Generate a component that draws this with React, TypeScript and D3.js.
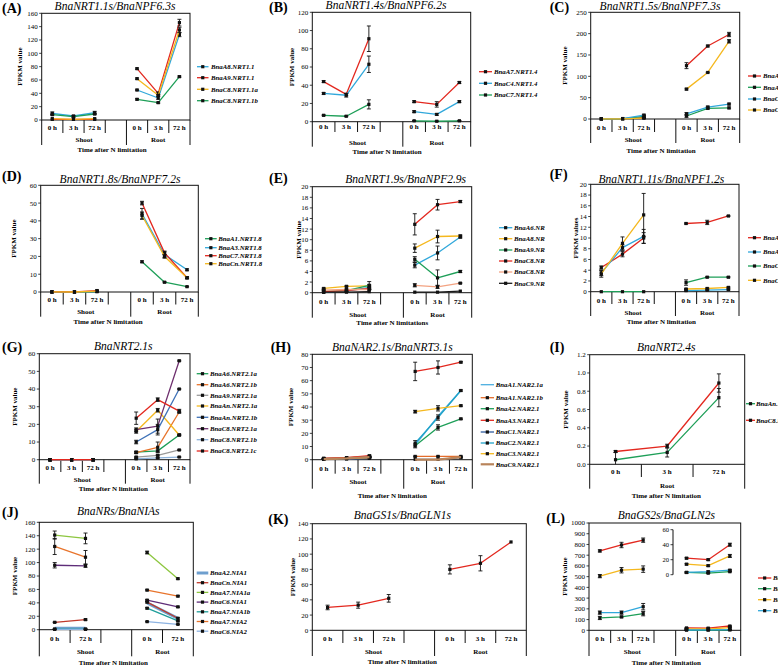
import React from "react";
import * as d3 from "d3";

const FONT = "'Liberation Serif', 'Times New Roman', serif";

const RED = "#E3281F";
const CYAN = "#31A8DB";
const YEL = "#F5B81E";
const GRN = "#1E9F58";

type Group = { name: string; cats: string[] };

const GROUPS_STD: Group[] = [
  { name: "Shoot", cats: ["0 h", "3 h", "72 h", ""] },
  { name: "Root", cats: ["0 h", "3 h", "72 h"] },
];
const GROUPS_J: Group[] = [
  { name: "Shoot", cats: ["0 h", "72 h", ""] },
  { name: "Root", cats: ["0 h", "72 h"] },
];
const GROUPS_I: Group[] = [{ name: "Root", cats: ["0 h", "3 h", "72 h"] }];

// ---------------- data ----------------
const A_NAMES = ["BnaA8.NRT1.1", "BnaA9.NRT1.1", "BnaC8.NRT1.1a", "BnaC8.NRT1.1b"];
const A_COLORS = [CYAN, RED, YEL, GRN];
const A_VALUES = [
  [10, 6, 11, null, 45, 33, 128],
  [1, 1, 1, null, 77, 40, 146],
  [2, 1, 2, null, 62, 37, 135],
  [8, 5, 9, null, 31, 26, 65],
];
const A_ERRS = [
  [2, 1, 2, null, 1, 2, 3],
  [0, 0, 0, null, 1, 2, 5],
  [0, 0, 0, null, 1, 1, 4],
  [1, 1, 1, null, 1, 1, 1],
];

const B_NAMES = ["BnaA7.NRT1.4", "BnaC4.NRT1.4", "BnaC7.NRT1.4"];
const B_COLORS = [RED, CYAN, GRN];
const B_VALUES = [
  [44, 30, 91, null, 22, 19, 43],
  [31, 29, 63, null, 11, 8, 22],
  [7, 6, 19, null, 1, 0.5, 1],
];
const B_ERRS = [
  [1, 1, 14, null, 1, 3, 1],
  [1, 2, 9, null, 1, 1, 1],
  [0.5, 0.5, 5, null, 0.3, 0.2, 0.3],
];

const C_NAMES = ["BnaA2.NRT1.5", "BnaA4.NRT1.5", "BnaC2.NRT1.5", "BnaC4.NRT1.5"];
const C_COLORS = [RED, GRN, CYAN, YEL];
const C_VALUES = [
  [0.5, 1, 3, null, 125, 171, 198],
  [0.3, 0.5, 6, null, 7, 25, 26],
  [0.5, 1, 9, null, 12, 28, 35],
  [0.2, 0.5, 2, null, 70, 109, 182],
];
const C_ERRS = [
  [0, 0, 1, null, 7, 2, 5],
  [0, 0, 2, null, 3, 2, 2],
  [0, 0, 2, null, 3, 2, 2],
  [0, 0, 1, null, 2, 1, 4],
];

const D_NAMES = ["BnaA1.NRT1.8", "BnaA3.NRT1.8", "BnaC7.NRT1.8", "BnaCn.NRT1.8"];
const D_COLORS = [GRN, CYAN, RED, YEL];
const D_VALUES = [
  [0, 0, 0.2, null, 17, 5.5, 3],
  [0, 0, 0.3, null, 44, 21, 12.5],
  [0.1, 0.1, 0.8, null, 50, 22, 8],
  [0.1, 0, 0.5, null, 43, 20, 8],
];
const D_ERRS = [
  [0, 0, 0, null, 0.5, 0.3, 0.2],
  [0, 0, 0, null, 3, 1.5, 0.5],
  [0, 0, 0.3, null, 1, 1, 0.5],
  [0, 0, 0, null, 2, 1, 0.5],
];

const E_NAMES = ["BnaA6.NRT1.9", "BnaA8.NRT1.9", "BnaA9.NRT1.9", "BnaC8.NRT1.9a", "BnaC8.NRT1.9b", "BnaC9.NRT1.9"];
const E_COLORS = [CYAN, YEL, GRN, RED, "#F3A382", "#1A1A1A"];
const E_VALUES = [
  [0.1, 0.3, 1.0, null, 5.2, 7.5, 10.5],
  [0.8, 1.2, 1.3, null, 8.4, 10.6, 10.7],
  [0.2, 0.4, 1.4, null, 6.3, 2.8, 4.0],
  [0.2, 0.4, 0.8, null, 12.9, 16.6, 17.2],
  [0.5, 0.6, 0.6, null, 1.4, 1.1, 1.8],
  [0.1, 0.1, 0.2, null, 0.1, 0.1, 0.3],
];
const E_ERRS = [
  [0, 0.1, 0.3, null, 0.5, 1.3, 0.2],
  [0.1, 0.1, 0.2, null, 0.8, 1.2, 0.2],
  [0.1, 0.1, 0.7, null, 0.5, 1.5, 0.2],
  [0, 0.1, 0.2, null, 2.0, 1.0, 0.2],
  [0.1, 0.1, 0.1, null, 0.3, 0.3, 0.1],
  [0, 0, 0, null, 0, 0, 0],
];

const F_NAMES = ["BnaA1.NRT1.11", "BnaA3.NRT1.11", "BnaC1.NRT1.11", "BnaC3.NRT1.11"];
const F_COLORS = [RED, CYAN, GRN, YEL];
const F_VALUES = [
  [4.5, 7.0, 10.0, null, 12.7, 12.9, 14.1],
  [3.5, 8.2, 10.3, null, 0.2, 0.3, 0.4],
  [0, 0, 0, null, 1.7, 2.7, 2.7],
  [3.3, 9.0, 14.3, null, 0.5, 0.6, 0.8],
];
const F_ERRS = [
  [0.3, 0.5, 1.0, null, 0.1, 0.4, 0.1],
  [0.5, 0.5, 1.3, null, 0.1, 0.1, 0.1],
  [0, 0, 0, null, 0.5, 0.1, 0.1],
  [0.6, 1.2, 4.0, null, 0.1, 0.1, 0.1],
];

const G_NAMES = ["BnaA6.NRT2.1a", "BnaA6.NRT2.1b", "BnaA9.NRT2.1a", "BnaAn.NRT2.1a", "BnaAn.NRT2.1b", "BnaC8.NRT2.1a", "BnaC8.NRT2.1b", "BnaC8.NRT2.1c"];
const G_COLORS = [GRN, "#E8742C", "#9A9A9A", YEL, "#3F72B8", "#6E2F6E", "#8DB3DC", RED];
const G_VALUES = [
  [0, 0, 0, null, 4.3, 5, 14],
  [0, 0, 0, null, 4, 7, 27],
  [0, 0, 0, null, 1.5, 2.5, 5.5],
  [0, 0, 0, null, 16, 28, 14],
  [0, 0, 0, null, 10, 17, 40],
  [0, 0, 0, null, 17, 19, 56],
  [0, 0, 0, null, 0.5, 1, 1.5],
  [0, 0, 0, null, 23.5, 34, 27.5],
];
const G_ERRS = [
  [0, 0, 0, null, 0.5, 0.5, 0.3],
  [0, 0, 0, null, 0.5, 3, 0.5],
  [0, 0, 0, null, 0.3, 0.3, 0.3],
  [0, 0, 0, null, 1, 1, 0.5],
  [0, 0, 0, null, 1, 3, 0.3],
  [0, 0, 0, null, 1, 4, 0.3],
  [0, 0, 0, null, 0.2, 0.2, 0.2],
  [0, 0, 0, null, 3.5, 1, 1],
];

const H_NAMES = ["BnaA1.NAR2.1a", "BnaA1.NAR2.1b", "BnaA2.NAR2.1", "BnaA3.NAR2.1", "BnaC1.NAR2.1", "BnaC2.NAR2.1", "BnaC3.NAR2.1", "BnaC9.NAR2.1"];
const H_COLORS = ["#4BAEE0", "#E46C2A", GRN, RED, "#2F5C9E", "#1FA3C9", YEL, "#B8845A"];
const H_VALUES = [
  [1, 1.5, 2, null, 11, 33, 52.5],
  [1, 1.5, 2.5, null, 2.5, 2.5, 2.5],
  [0.5, 1, 1.5, null, 10.5, 24.5, 31],
  [1, 1.5, 3, null, 67, 70, 74],
  [0.3, 0.5, 1, null, 0.3, 0.3, 1.5],
  [0.5, 1, 2, null, 12.5, 32, 52.5],
  [0.5, 1, 1.5, null, 36.5, 39, 41],
  [0.5, 1, 2, null, 0, 0, 2],
];
const H_ERRS = [
  [0, 0, 0, null, 0, 0, 0],
  [0.2, 0.2, 0.3, null, 0.3, 0.3, 0.3],
  [0.2, 0.2, 0.3, null, 1.5, 2, 0.5],
  [0.3, 0.3, 0.5, null, 7, 5, 0.5],
  [0, 0, 0, null, 0, 0, 0.3],
  [0.2, 0.2, 0.3, null, 2, 2, 0.5],
  [0.2, 0.2, 0.3, null, 1, 2, 0.5],
  [0, 0, 0, null, 0, 0, 0],
];

const I_NAMES = ["BnaAn.NRT2.4", "BnaC8.NRT2.4"];
const I_COLORS = [GRN, RED];
const I_VALUES = [
  [0.05, 0.13, 0.73],
  [0.14, 0.2, 0.89],
];
const I_ERRS = [
  [0.08, 0.05, 0.1],
  [0.01, 0.02, 0.1],
];

const J_NAMES = ["BnaA2.NIA1", "BnaCn.NIA1", "BnaA7.NIA1a", "BnaC6.NIA1", "BnaA7.NIA1b", "BnaA7.NIA2", "BnaC6.NIA2"];
const J_COLORS = ["#6E9FCE", "#C0392B", "#8DC63F", "#5E2D79", "#1F9E9A", "#E8742C", "#8DB3E2"];
const J_VALUES = [
  [2, 2, null, 40, 17],
  [11, 15, null, 41, 17],
  [141, 136, null, 115, 76],
  [96, 95, null, 44, 34],
  [1, 1, null, 32, 13],
  [124, 108, null, 59, 50],
  [0.5, 0.5, null, 12, 8],
];
const J_ERRS = [
  [0, 0, null, 0, 0],
  [0.5, 1, null, 1, 1],
  [6, 8, null, 2, 1],
  [4, 2, null, 1, 1],
  [0.3, 0.3, null, 1, 1],
  [12, 10, null, 1, 1],
  [0.2, 0.2, null, 0.5, 0.5],
];

const K_NAMES = ["BnaGLN1"];
const K_COLORS = [RED];
const K_VALUES = [[30, 33, 42, null, 80, 88, 116]];
const K_ERRS = [[3, 4, 5, null, 6, 10, 0]];

const L_NAMES = ["BnaA2.GLN2", "BnaA4.GLN2", "BnaC2.GLN2", "BnaC4.GLN2"];
const L_COLORS = [RED, GRN, YEL, CYAN];
const L_VALUES = [
  [740, 795, 840, null, 22, 20, 40],
  [115, 125, 155, null, 3, 2, 4],
  [505, 560, 570, null, 14, 12, 25],
  [165, 165, 220, null, 3, 4, 6],
];
const L_ERRS = [
  [10, 25, 20, null, 1, 1, 2],
  [15, 8, 20, null, 0.5, 0.5, 0.5],
  [15, 25, 30, null, 1, 1, 2],
  [15, 15, 30, null, 1, 1, 1],
];

// ---------------- types ----------------
type Series = {
  name: string;
  color: string;
  values: (number | null)[];
  errs: (number | null)[];
  width: number;
  marker: boolean;
};

function mk(
  names: string[],
  colors: string[],
  values: (number | null)[][],
  errs: (number | null)[][],
  opts: Record<number, { width?: number; marker?: boolean }> = {}
): Series[] {
  return names.map((name, i) => ({
    name,
    color: colors[i],
    values: values[i],
    errs: errs[i],
    width: opts[i]?.width ?? 1.3,
    marker: opts[i]?.marker ?? true,
  }));
}

type Cfg = {
  id: string;
  label: string;
  labelX: number;
  labelY: number;
  title: string;
  titleX: number;
  titleY: number;
  left: number;
  right: number;
  top: number;
  bottom: number;
  yMax: number;
  yStep: number;
  yFmt?: string;
  groups: Group[];
  shortEnd: number;
  longEnd: number;
  row1Y: number;
  row2Y: number;
  xTitle: string;
  xTitleX: number;
  xTitleY: number;
  yTitle: string;
  yTitleX: number;
  legendX?: number;
  legendLen?: number;
  legendTextX?: number;
  legendRows?: number[];
  clip: number;
  series: Series[];
  inset?: { x: number; top: number; bottom: number; yMax: number; yStep: number; from: number };
};

const XT = "Time after N limitation";

const PANELS: Cfg[] = [
  {
    id: "A", label: "(A)", labelX: 2, labelY: 13, title: "BnaNRT1.1s/BnaNPF6.3s", titleX: 115, titleY: 6,
    left: 41.7, right: 190, top: 13.3, bottom: 120, yMax: 160, yStep: 20, groups: GROUPS_STD,
    shortEnd: 133, longEnd: 145, row1Y: 127.7, row2Y: 140, xTitle: XT, xTitleX: 112, xTitleY: 149.5,
    yTitle: "FPKM value", yTitleX: 20,
    legendX: 197, legendLen: 11.5, legendTextX: 211, legendRows: [66.7, 77.7, 89.3, 100.7], clip: 262,
    series: mk(A_NAMES, A_COLORS, A_VALUES, A_ERRS),
  },
  {
    id: "B", label: "(B)", labelX: 269, labelY: 12, title: "BnaNRT1.4s/BnaNPF6.2s", titleX: 386, titleY: 5,
    left: 312.3, right: 470.7, top: 12.3, bottom: 121.7, yMax: 120, yStep: 20, groups: GROUPS_STD,
    shortEnd: 132, longEnd: 146.7, row1Y: 126.7, row2Y: 142.7, xTitle: XT, xTitleX: 387, xTitleY: 151.7,
    yTitle: "FPKM value", yTitleX: 292,
    legendX: 479, legendLen: 13, legendTextX: 494, legendRows: [71.7, 83.3, 95], clip: 545,
    series: mk(B_NAMES, B_COLORS, B_VALUES, B_ERRS),
  },
  {
    id: "C", label: "(C)", labelX: 549.7, labelY: 12, title: "BnaNRT1.5s/BnaNPF7.3s", titleX: 660, titleY: 6,
    left: 590.7, right: 739.7, top: 12.3, bottom: 119, yMax: 250, yStep: 50, groups: GROUPS_STD,
    shortEnd: 132, longEnd: 143, row1Y: 127.7, row2Y: 140, xTitle: XT, xTitleX: 661, xTitleY: 150.7,
    yTitle: "FPKM value", yTitleX: 564.7,
    legendX: 748, legendLen: 13, legendTextX: 763, legendRows: [76, 87.3, 99, 110], clip: 778,
    series: mk(C_NAMES, C_COLORS, C_VALUES, C_ERRS),
  },
  {
    id: "D", label: "(D)", labelX: 2, labelY: 181, title: "BnaNRT1.8s/BnaNPF7.2s", titleX: 120, titleY: 178.7,
    left: 40.7, right: 198.3, top: 185.3, bottom: 292, yMax: 60, yStep: 10, groups: GROUPS_STD,
    shortEnd: 304.5, longEnd: 316.7, row1Y: 300, row2Y: 311.7, xTitle: XT, xTitleX: 108, xTitleY: 321.7,
    yTitle: "FPKM value", yTitleX: 13.3,
    legendX: 205, legendLen: 11.7, legendTextX: 218.3, legendRows: [238.7, 247.7, 255.7, 263.7], clip: 266,
    series: mk(D_NAMES, D_COLORS, D_VALUES, D_ERRS),
  },
  {
    id: "E", label: "(E)", labelX: 269, labelY: 182.7, title: "BnaNRT1.9s/BnaNPF2.9s", titleX: 405.7, titleY: 179.3,
    left: 312.3, right: 471.7, top: 186.7, bottom: 292.7, yMax: 20, yStep: 2, groups: GROUPS_STD,
    shortEnd: 304.5, longEnd: 317.7, row1Y: 302, row2Y: 314.3, xTitle: "Time after N limitations", xTitleX: 392.3, xTitleY: 322.7,
    yTitle: "FPKM value", yTitleX: 299,
    legendX: 499, legendLen: 13.3, legendTextX: 514, legendRows: [227.7, 238.7, 250, 261, 272, 283.3], clip: 545,
    series: mk(E_NAMES, E_COLORS, E_VALUES, E_ERRS),
  },
  {
    id: "F", label: "(F)", labelX: 549.7, labelY: 179.3, title: "BnaNRT1.11s/BnaNPF1.2s", titleX: 661.3, titleY: 178.7,
    left: 590.7, right: 739, top: 184.3, bottom: 291.7, yMax: 20, yStep: 2, groups: GROUPS_STD,
    shortEnd: 304, longEnd: 316, row1Y: 301, row2Y: 312.7, xTitle: XT, xTitleX: 661.3, xTitleY: 321.7,
    yTitle: "FPKM values", yTitleX: 576,
    legendX: 748, legendLen: 13, legendTextX: 763, legendRows: [237.7, 252, 266, 280.3], clip: 778,
    series: mk(F_NAMES, F_COLORS, F_VALUES, F_ERRS),
  },
  {
    id: "G", label: "(G)", labelX: 2, labelY: 352, title: "BnaNRT2.1s", titleX: 123.3, titleY: 346,
    left: 39.3, right: 190, top: 353.7, bottom: 459.7, yMax: 60, yStep: 10, groups: GROUPS_STD,
    shortEnd: 472, longEnd: 483.7, row1Y: 468, row2Y: 479.7, xTitle: XT, xTitleX: 113.3, xTitleY: 488.7,
    yTitle: "FPKM value", yTitleX: 15,
    legendX: 196.7, legendLen: 11.6, legendTextX: 210, legendRows: [373.7, 384.7, 395.3, 406, 417.3, 428.7, 439.7, 451], clip: 262,
    series: mk(G_NAMES, G_COLORS, G_VALUES, G_ERRS),
  },
  {
    id: "H", label: "(H)", labelX: 270.7, labelY: 352, title: "BnaNAR2.1s/BnaNRT3.1s", titleX: 392.3, titleY: 347,
    left: 312.3, right: 472.3, top: 354.3, bottom: 459.7, yMax: 80, yStep: 10, groups: GROUPS_STD,
    shortEnd: 473.7, longEnd: 488.7, row1Y: 468.7, row2Y: 482, xTitle: XT, xTitleX: 392.3, xTitleY: 495.3,
    yTitle: "FPKM value", yTitleX: 290.7,
    legendX: 480.7, legendLen: 13.3, legendTextX: 495.7, legendRows: [384.7, 397.7, 408.7, 420.3, 432, 443, 453.7, 464.3], clip: 545,
    series: mk(H_NAMES, H_COLORS, H_VALUES, H_ERRS, { 0: { marker: false }, 7: { marker: false, width: 2.2 } }),
  },
  {
    id: "I", label: "(I)", labelX: 549.7, labelY: 352, title: "BnaNRT2.4s", titleX: 666.3, titleY: 347,
    left: 589.7, right: 744.7, top: 354.7, bottom: 464.3, yMax: 1.2, yStep: 0.2, yFmt: ".1f", groups: GROUPS_I,
    shortEnd: 477, longEnd: 488.7, row1Y: 472, row2Y: 485.3, xTitle: XT, xTitleX: 666.3, xTitleY: 495.3,
    yTitle: "FPKM value", yTitleX: 566,
    legendX: 746, legendLen: 9, legendTextX: 756, legendRows: [403.7, 420.3], clip: 778,
    series: mk(I_NAMES, I_COLORS, I_VALUES, I_ERRS),
  },
  {
    id: "J", label: "(J)", labelX: 2, labelY: 517, title: "BnaNRs/BnaNIAs", titleX: 118.3, titleY: 511.3,
    left: 39.3, right: 193.3, top: 522.3, bottom: 629.7, yMax: 160, yStep: 20, groups: GROUPS_J,
    shortEnd: 643, longEnd: 656.3, row1Y: 638.7, row2Y: 651.3, xTitle: XT, xTitleX: 113.3, xTitleY: 662.3,
    yTitle: "FPKM value", yTitleX: 15,
    legendX: 196.7, legendLen: 11.6, legendTextX: 210, legendRows: [573, 582.7, 592.4, 602.1, 611.8, 621.5, 631.2], clip: 262,
    series: mk(J_NAMES, J_COLORS, J_VALUES, J_ERRS, { 0: { marker: false, width: 3 } }),
  },
  {
    id: "K", label: "(K)", labelX: 268.3, labelY: 524, title: "BnaGS1s/BnaGLN1s", titleX: 402.3, titleY: 515.3,
    left: 312.3, right: 526.3, top: 523.7, bottom: 630.3, yMax: 140, yStep: 20, groups: GROUPS_STD,
    shortEnd: 643, longEnd: 656, row1Y: 638.7, row2Y: 651.3, xTitle: XT, xTitleX: 402.3, xTitleY: 661.3,
    yTitle: "FPKM value", yTitleX: 292.3,
    clip: 530,
    series: mk(K_NAMES, K_COLORS, K_VALUES, K_ERRS),
  },
  {
    id: "L", label: "(L)", labelX: 546.3, labelY: 523, title: "BnaGS2s/BnaGLN2s", titleX: 666.3, titleY: 514.7,
    left: 589, right: 740.7, top: 523, bottom: 630.3, yMax: 1000, yStep: 100, groups: GROUPS_STD,
    shortEnd: 643, longEnd: 656, row1Y: 638.7, row2Y: 651.3, xTitle: XT, xTitleX: 666.3, xTitleY: 662.3,
    yTitle: "FPKM value", yTitleX: 564.7,
    legendX: 758, legendLen: 13.3, legendTextX: 773, legendRows: [578, 588.7, 599.7, 610.7], clip: 778,
    series: mk(L_NAMES, L_COLORS, L_VALUES, L_ERRS),
    inset: { x: 673, top: 529.7, bottom: 574.7, yMax: 60, yStep: 20, from: 4 },
  },
];

const TICK_FS = 7;
const SMALL_FS = 7;

function Marker({ x, y }: { x: number; y: number }) {
  return <rect x={x - 1.6} y={y - 1.6} width={3.2} height={3.2} fill="#111" />;
}

function SeriesMarks({
  s, xs, y, from = 0,
}: { s: Series; xs: (i: number) => number; y: d3.ScaleLinear<number, number>; from?: number }) {
  const pts = s.values.map((v, i) => [i, v] as [number, number | null]).filter((d) => d[0] >= from);
  const line = d3
    .line<[number, number | null]>()
    .defined((d) => d[1] != null)
    .x((d) => xs(d[0]))
    .y((d) => y(d[1] as number));
  return (
    <g>
      <path d={line(pts) || ""} fill="none" stroke={s.color} strokeWidth={s.width} strokeLinejoin="round" />
      {pts.map(([i, v]) => {
        if (v == null) return null;
        const e = s.errs[i] ?? 0;
        const cx = xs(i);
        return (
          <g key={i}>
            {e > 0 && (
              <g stroke="#111" strokeWidth={0.9}>
                <line x1={cx} x2={cx} y1={y(Math.max(0, v - e))} y2={y(v + e)} />
                <line x1={cx - 2} x2={cx + 2} y1={y(v + e)} y2={y(v + e)} />
                {v - e > 0 && <line x1={cx - 2} x2={cx + 2} y1={y(v - e)} y2={y(v - e)} />}
              </g>
            )}
            {s.marker && <Marker x={cx} y={y(v)} />}
          </g>
        );
      })}
    </g>
  );
}

function Panel({ c }: { c: Cfg }) {
  const cats = c.groups.flatMap((g) => g.cats);
  const n = cats.length;
  const w = (c.right - c.left) / n;
  const xs = (i: number) => c.left + (i + 0.5) * w;
  const y = d3.scaleLinear().domain([0, c.yMax]).range([c.bottom, c.top]);
  const ticks = d3.range(0, c.yMax + c.yStep / 2, c.yStep);
  const fmt = d3.format(c.yFmt ?? "d");
  const bounds = new Set<number>([0]);
  let acc = 0;
  const groupSpans: { name: string; a: number; b: number }[] = [];
  c.groups.forEach((g) => {
    groupSpans.push({ name: g.name, a: acc, b: acc + g.cats.length });
    acc += g.cats.length;
    bounds.add(acc);
  });
  const clipId = `clip-${c.id}`;
  return (
    <g clipPath={`url(#${clipId})`}>
      <defs>
        <clipPath id={clipId}>
          <rect x={0} y={0} width={c.clip} height={666} />
        </clipPath>
      </defs>
      <text x={c.labelX} y={c.labelY} fontSize={14} fontWeight="bold" fontFamily={FONT}>{c.label}</text>
      <text x={c.titleX} y={c.titleY + 4} fontSize={11.5} fontStyle="italic" textAnchor="middle" fontFamily={FONT}>{c.title}</text>
      <rect x={c.left} y={c.top} width={c.right - c.left} height={c.bottom - c.top} fill="none" stroke="#111" strokeWidth={1} />
      {ticks.map((t) => (
        <g key={t}>
          <line x1={c.left - 2.5} x2={c.left} y1={y(t)} y2={y(t)} stroke="#111" strokeWidth={0.8} />
          <text x={c.left - 4} y={y(t)} dy="0.35em" fontSize={TICK_FS} textAnchor="end" fontFamily={FONT}>{fmt(t)}</text>
        </g>
      ))}
      <text
        transform={`translate(${c.yTitleX},${(c.top + c.bottom) / 2}) rotate(-90)`}
        dy="0.35em" fontSize={SMALL_FS} fontWeight="bold" textAnchor="middle" fontFamily={FONT}
      >{c.yTitle}</text>
      {d3.range(0, n + 1).map((k) => {
        const x = c.left + k * w;
        const long = bounds.has(k);
        return <line key={k} x1={x} x2={x} y1={c.bottom} y2={long ? c.longEnd : c.shortEnd} stroke="#111" strokeWidth={1} />;
      })}
      {cats.map((lab, i) =>
        lab ? (
          <text key={i} x={xs(i)} y={c.row1Y} dy="0.35em" fontSize={SMALL_FS} fontWeight="bold" textAnchor="middle" fontFamily={FONT}>{lab}</text>
        ) : null
      )}
      {groupSpans.map((g) => (
        <text key={g.name} x={c.left + ((g.a + g.b) / 2) * w} y={c.row2Y} dy="0.35em" fontSize={SMALL_FS} fontWeight="bold" textAnchor="middle" fontFamily={FONT}>{g.name}</text>
      ))}
      <text x={c.xTitleX} y={c.xTitleY} dy="0.35em" fontSize={SMALL_FS} fontWeight="bold" textAnchor="middle" fontFamily={FONT}>{c.xTitle}</text>
      {c.series.map((s) => (
        <SeriesMarks key={s.name} s={s} xs={xs} y={y} />
      ))}
      {c.inset && (() => {
        const ins = c.inset!;
        const yi = d3.scaleLinear().domain([0, ins.yMax]).range([ins.bottom, ins.top]);
        const it = d3.range(0, ins.yMax + ins.yStep / 2, ins.yStep);
        return (
          <g>
            <line x1={ins.x} x2={ins.x} y1={ins.top} y2={ins.bottom} stroke="#111" strokeWidth={1} />
            {it.map((t) => (
              <g key={t}>
                <line x1={ins.x - 2.5} x2={ins.x} y1={yi(t)} y2={yi(t)} stroke="#111" strokeWidth={0.8} />
                <text x={ins.x - 4} y={yi(t)} dy="0.35em" fontSize={TICK_FS - 0.5} textAnchor="end" fontFamily={FONT}>{t}</text>
              </g>
            ))}
            {c.series.map((s) => (
              <SeriesMarks key={s.name} s={s} xs={xs} y={yi} from={ins.from} />
            ))}
          </g>
        );
      })()}
      {c.legendRows &&
        c.series.map((s, i) => {
          const ly = c.legendRows![i];
          const lx = c.legendX!;
          const len = c.legendLen!;
          return (
            <g key={s.name}>
              <line x1={lx} x2={lx + len} y1={ly} y2={ly} stroke={s.color} strokeWidth={s.width} />
              {s.marker && <Marker x={lx + len / 2} y={ly} />}
              <text x={c.legendTextX} y={ly} dy="0.35em" fontSize={6.8} fontWeight="bold" fontStyle="italic" fontFamily={FONT}>{s.name}</text>
            </g>
          );
        })}
    </g>
  );
}

export default function App() {
  return (
    <svg
      width={778}
      height={666}
      viewBox="0 0 778 666"
      style={{ position: "absolute", left: 0, top: 0, background: "#fff" }}
      fontFamily={FONT}
    >
      <rect x={0} y={0} width={778} height={666} fill="#fff" />
      {PANELS.map((p) => (
        <Panel key={p.id} c={p} />
      ))}
    </svg>
  );
}
